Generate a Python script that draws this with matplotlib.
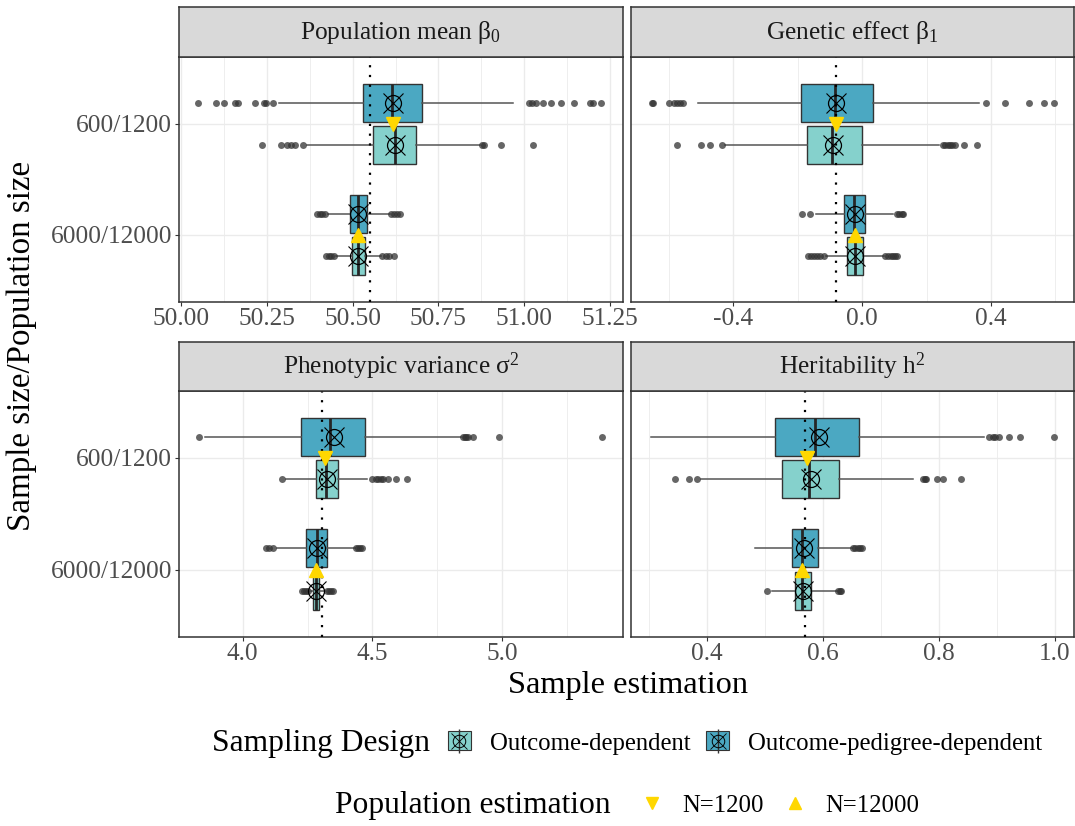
import matplotlib
matplotlib.use("Agg")
import matplotlib.pyplot as plt
from matplotlib.lines import Line2D
from matplotlib.patches import Patch
from matplotlib.legend_handler import HandlerTuple

plt.rcParams['font.family'] = ['Liberation Serif', 'DejaVu Serif']
plt.rcParams['mathtext.fontset'] = 'custom'
plt.rcParams['mathtext.rm'] = 'Liberation Serif'
plt.rcParams['mathtext.it'] = 'Liberation Serif:italic'

# categories
sizes = ['600/1200', '6000/12000']
designs = ['Outcome-dependent', 'Outcome-pedigree-dependent']
panel_titles = ['Population mean β$_0$', 'Genetic effect β$_1$',
                'Phenotypic variance σ$^2$', 'Heritability h$^2$']

# box order in every panel: 600 ped, 600 out, 6000 ped, 6000 out
box_size = [0, 0, 1, 1]
box_design = [1, 0, 1, 0]

# Population mean beta0
b0_q1 = [50.530, 50.559, 50.491, 50.499]
b0_med = [50.615, 50.622, 50.517, 50.517]
b0_q3 = [50.702, 50.684, 50.542, 50.537]
b0_lo = [50.285, 50.367, 50.428, 50.452]
b0_hi = [50.966, 50.871, 50.608, 50.584]
b0_mean = [50.619, 50.622, 50.517, 50.517]
b0_out = [[50.050, 50.101, 50.125, 50.157, 50.166, 50.215, 50.241, 50.248, 50.268,
           51.015, 51.024, 51.034, 51.055, 51.079, 51.107, 51.145, 51.191, 51.201, 51.223],
          [50.236, 50.290, 50.309, 50.319, 50.331, 50.356, 50.878, 50.883, 50.931, 51.026],
          [50.396, 50.404, 50.412, 50.420, 50.612, 50.620, 50.630, 50.639],
          [50.421, 50.430, 50.438, 50.447, 50.587, 50.597, 50.607, 50.620]]
b0_true = 50.552
b0_pop = [50.619, 50.517]

# Genetic effect beta1
b1_q1 = [-0.191, -0.173, -0.057, -0.047]
b1_med = [-0.085, -0.093, -0.025, -0.021]
b1_q3 = [0.034, 0.000, 0.008, 0.003]
b1_lo = [-0.509, -0.425, -0.144, -0.111]
b1_hi = [0.363, 0.239, 0.096, 0.067]
b1_mean = [-0.080, -0.090, -0.023, -0.022]
b1_out = [[-0.654, -0.651, -0.599, -0.585, -0.576, -0.566, -0.556, 0.384, 0.443, 0.518, 0.563, 0.595],
          [-0.576, -0.502, -0.473, -0.434, 0.252, 0.258, 0.265, 0.272, 0.280, 0.288, 0.317, 0.355],
          [-0.188, -0.162, 0.107, 0.115, 0.122, 0.127],
          [-0.168, -0.160, -0.150, -0.140, -0.130, -0.118, 0.072, 0.080, 0.088, 0.096, 0.103, 0.109]]
b1_true = -0.082
b1_pop = [-0.080, -0.023]

# Phenotypic variance sigma2
s2_q1 = [4.223, 4.282, 4.246, 4.272]
s2_med = [4.338, 4.323, 4.285, 4.282]
s2_q3 = [4.473, 4.368, 4.325, 4.295]
s2_lo = [3.855, 4.169, 4.131, 4.262]
s2_hi = [4.842, 4.481, 4.432, 4.318]
s2_mean = [4.351, 4.326, 4.285, 4.282]
s2_out = [[3.833, 4.849, 4.855, 4.862, 4.870, 4.887, 4.986, 5.383],
          [4.150, 4.500, 4.512, 4.522, 4.532, 4.541, 4.560, 4.590, 4.633],
          [4.090, 4.100, 4.118, 4.438, 4.445, 4.452, 4.458],
          [4.227, 4.236, 4.245, 4.253, 4.326, 4.334, 4.342, 4.350]]
s2_true = 4.304
s2_pop = [4.317, 4.282]

# Heritability h2
h2_q1 = [0.518, 0.530, 0.547, 0.552]
h2_med = [0.587, 0.576, 0.565, 0.565]
h2_q3 = [0.662, 0.628, 0.591, 0.580]
h2_lo = [0.304, 0.390, 0.484, 0.513]
h2_hi = [0.877, 0.755, 0.650, 0.625]
h2_mean = [0.594, 0.580, 0.567, 0.566]
h2_out = [[0.886, 0.893, 0.897, 0.903, 0.920, 0.939, 0.999],
          [0.345, 0.370, 0.383, 0.773, 0.776, 0.778, 0.797, 0.807, 0.838],
          [0.652, 0.656, 0.660, 0.664, 0.667],
          [0.503, 0.626, 0.629, 0.632]]
h2_true = 0.569
h2_pop = [0.572, 0.565]

# axis breaks
b0_ticks = [50.00, 50.25, 50.50, 50.75, 51.00, 51.25]
b1_ticks = [-0.4, 0.0, 0.4]
s2_ticks = [4.0, 4.5, 5.0]
h2_ticks = [0.4, 0.6, 0.8, 1.0]
b0_minor = [50.125, 50.375, 50.625, 50.875, 51.125]
b1_minor = [-0.6, -0.2, 0.2, 0.6]
s2_minor = [4.25, 4.75, 5.25]
h2_minor = [0.3, 0.5, 0.7, 0.9]

panels = [
    (b0_q1, b0_med, b0_q3, b0_lo, b0_hi, b0_mean, b0_out, b0_true, b0_pop, b0_ticks, b0_minor, '%.2f', (49.994, 51.287)),
    (b1_q1, b1_med, b1_q3, b1_lo, b1_hi, b1_mean, b1_out, b1_true, b1_pop, b1_ticks, b1_minor, '%.1f', (-0.717, 0.656)),
    (s2_q1, s2_med, s2_q3, s2_lo, s2_hi, s2_mean, s2_out, s2_true, s2_pop, s2_ticks, s2_minor, '%.1f', (3.755, 5.464)),
    (h2_q1, h2_med, h2_q3, h2_lo, h2_hi, h2_mean, h2_out, h2_true, h2_pop, h2_ticks, h2_minor, '%.1f', (0.270, 1.032)),
]

colors = ['#85D1CC', '#4BA8C2']   # outcome-dep, outcome-pedigree-dep
gold = '#FFD700'
W, H = 1075, 826

fig = plt.figure(figsize=(W / 100, H / 100), dpi=100)

# panel boxes in pixels: left, right, top, bottom
lefts = [(179, 622.7), (631.3, 1073.5)]
rows = [(57, 301.7, 7.3), (390.7, 636.7, 341.7)]

for k, p in enumerate(panels):
    q1, med, q3, lo, hi, mean, out, true, pop, ticks, minor, fmt, xlim = p
    r, c = k // 2, k % 2
    x0, x1 = lefts[c]
    y0, y1, ys = rows[r]
    ax = fig.add_axes([x0 / W, 1 - y1 / H, (x1 - x0) / W, (y1 - y0) / H])
    sax = fig.add_axes([x0 / W, 1 - y0 / H, (x1 - x0) / W, (y0 - ys) / H])

    pos = [(2 - box_size[i]) + (0.19 if box_design[i] == 1 else -0.19) for i in range(4)]
    stats = []
    for i in range(4):
        stats.append(dict(med=med[i], q1=q1[i], q3=q3[i], whislo=lo[i], whishi=hi[i], fliers=out[i]))
    bp = ax.bxp(stats, positions=pos, widths=0.34, orientation='horizontal', patch_artist=True,
                showcaps=False,
                boxprops=dict(edgecolor='#333333', linewidth=1.0),
                medianprops=dict(color='#262626', linewidth=2.0),
                whiskerprops=dict(color='#555555', linewidth=1.1),
                flierprops=dict(marker='o', markerfacecolor='#333333', markeredgecolor='none',
                                markersize=5, alpha=0.75))
    for i, patch in enumerate(bp['boxes']):
        patch.set_facecolor(colors[box_design[i]])

    ax.plot(mean, pos, 'o', mfc='none', mec='black', ms=11.5, mew=0.9, ls='none', zorder=4)
    ax.plot(mean, pos, 'x', color='black', ms=15, mew=0.8, ls='none', zorder=4)
    ax.axvline(true, color='black', ls=(0, (1, 3.4)), lw=1.6, zorder=5)
    ax.plot([pop[0]], [2], marker='v', color=gold, ms=10, ls='none', zorder=6)
    ax.plot([pop[1]], [1], marker='^', color=gold, ms=10, ls='none', zorder=6)

    ax.set_xlim(xlim)
    ax.set_ylim(0.4, 2.6)
    ax.set_xticks(ticks)
    ax.set_xticklabels([(fmt % t).replace('\u2212', '-') for t in ticks])
    ax.set_xticks(minor, minor=True)
    ax.set_yticks([2, 1])
    ax.grid(True, which='major', color='#EBEBEB', lw=1.0, zorder=0)
    ax.grid(True, which='minor', axis='x', color='#EBEBEB', lw=0.6, zorder=0)
    ax.set_axisbelow(True)
    ax.tick_params(axis='both', which='major', direction='out', length=2.8, width=0.8,
                   color='#333333', labelcolor='#4D4D4D', labelsize=18.3, pad=2)
    ax.tick_params(which='minor', length=0)
    if c == 0:
        ax.set_yticklabels(sizes)
    else:
        ax.set_yticklabels([])
        ax.tick_params(axis='y', length=0)
    for s in ax.spines.values():
        s.set_color('#333333')
        s.set_linewidth(1.1)

    sax.set_facecolor('#D9D9D9')
    sax.set_xticks([])
    sax.set_yticks([])
    for s in sax.spines.values():
        s.set_color('#333333')
        s.set_linewidth(1.1)
    sax.text(0.5, 0.5, panel_titles[k], transform=sax.transAxes, ha='center', va='center',
             fontsize=18.3, color='#1A1A1A')

fig.text(22 / W, 1 - 346 / H, 'Sample size/Population size', rotation=90,
         ha='center', va='center', fontsize=23.8)
fig.text(628 / W, 1 - 685 / H, 'Sample estimation', ha='center', va='center', fontsize=23.3)

# legends
fig.text(212 / W, 1 - 743 / H, 'Sampling Design', ha='left', va='center', fontsize=22.7)
keys = []
for col in colors:
    keys.append((Patch(facecolor=col, edgecolor='#333333', lw=0.8),
                 Line2D([], [], marker='|', color='#333333', ms=17, mew=1.0, ls='none'),
                 Line2D([], [], marker='o', mfc='none', mec='black', ms=9, mew=0.7, ls='none'),
                 Line2D([], [], marker='x', color='black', ms=12, mew=0.6, ls='none')))
fig.legend(keys, designs, loc='center left', bbox_to_anchor=(448 / W, 1 - 743 / H),
           ncol=2, frameon=False, fontsize=17.8, handlelength=0.93, handleheight=0.8,
           handletextpad=0.75, columnspacing=0.65, borderpad=0, borderaxespad=0,
           handler_map={tuple: HandlerTuple(ndivide=1, pad=0)})

fig.text(335 / W, 1 - 806 / H, 'Population estimation', ha='left', va='center', fontsize=22.7)
tri = [Line2D([], [], marker='v', color=gold, ms=9, ls='none'),
       Line2D([], [], marker='^', color=gold, ms=9, ls='none')]
fig.legend(tri, ['N=1200', 'N=12000'], loc='center left', bbox_to_anchor=(640 / W, 1 - 806 / H),
           ncol=2, frameon=False, fontsize=17.8, handlelength=1.0, handletextpad=0.73,
           columnspacing=0.73, borderpad=0, borderaxespad=0)

fig.savefig('out.png', dpi=100)
